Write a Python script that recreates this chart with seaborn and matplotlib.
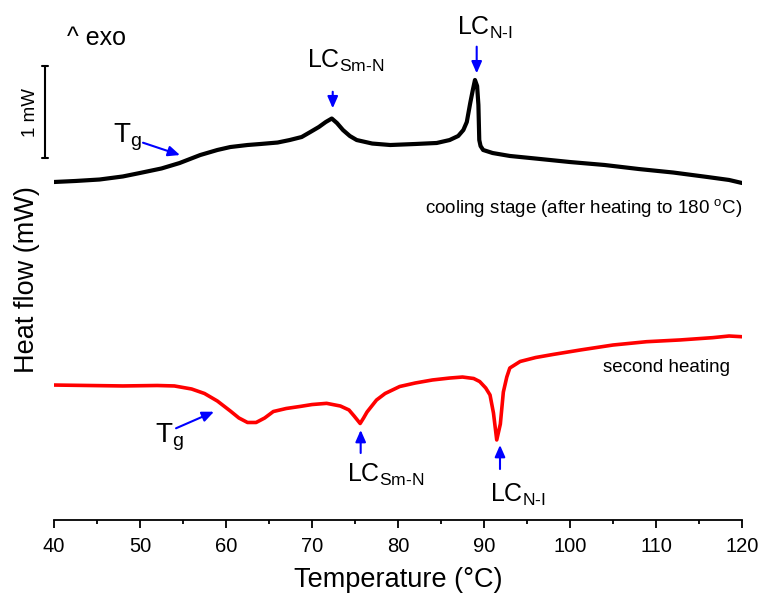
import numpy as np
import pandas as pd
import matplotlib
matplotlib.use("Agg")
import matplotlib.pyplot as plt
from matplotlib.ticker import MultipleLocator
import seaborn as sns

# DSC traces: temperature (°C) and heat flow (mW, stacked with offsets)
cool_T = [40.0, 42.5, 45.3, 48.0, 50.0, 52.5, 54.6, 57.0, 59.0, 60.5, 62.5, 64.0,
          66.0, 67.4, 68.8, 69.8, 70.8, 71.6, 72.3, 72.9, 73.6, 74.4, 75.2, 77.0,
          79.1, 82.0, 84.5, 86.0, 87.0, 87.6, 88.0, 88.4, 88.7, 88.95, 89.2, 89.35,
          89.45, 89.6, 89.9, 91.0, 93.0, 96.0, 100.0, 104.0, 108.0, 112.0, 116.0,
          118.5, 120.0]
cool_mW = [3.674, 3.685, 3.701, 3.734, 3.772, 3.821, 3.880, 3.967, 4.022, 4.054,
           4.076, 4.087, 4.103, 4.130, 4.163, 4.217, 4.272, 4.326, 4.364, 4.315,
           4.239, 4.174, 4.130, 4.092, 4.076, 4.087, 4.098, 4.130, 4.174, 4.239,
           4.326, 4.533, 4.674, 4.783, 4.717, 4.511, 4.130, 4.065, 4.022, 3.989,
           3.957, 3.929, 3.891, 3.859, 3.815, 3.777, 3.728, 3.696, 3.663]

heat_T = [40.0, 44.0, 48.0, 52.0, 54.0, 56.0, 57.5, 59.0, 60.5, 61.5, 62.5, 63.5,
          64.5, 65.5, 67.0, 68.6, 70.0, 71.7, 73.3, 74.3, 74.9, 75.6, 76.0, 76.4,
          77.5, 78.5, 80.2, 82.0, 84.0, 86.0, 87.5, 88.8, 89.5, 90.2, 90.7, 91.1,
          91.48, 91.9, 92.25, 92.65, 93.0, 94.2, 96.0, 98.0, 101.2, 105.0, 108.9,
          112.8, 116.6, 118.5, 120.0]
heat_mW = [1.467, 1.462, 1.457, 1.462, 1.457, 1.424, 1.375, 1.293, 1.185, 1.109,
           1.060, 1.060, 1.109, 1.179, 1.212, 1.234, 1.255, 1.268, 1.239, 1.196,
           1.130, 1.049, 1.109, 1.174, 1.304, 1.375, 1.451, 1.489, 1.522, 1.543,
           1.554, 1.538, 1.505, 1.435, 1.359, 1.163, 0.870, 1.043, 1.391, 1.554,
           1.652, 1.723, 1.766, 1.799, 1.848, 1.902, 1.938, 1.957, 1.982, 2.000,
           1.992]

x_ticks = [40, 50, 60, 70, 80, 90, 100, 110, 120]

sns.set_theme(style="ticks")
plt.rcParams["font.family"] = ["Liberation Sans", "DejaVu Sans"]
plt.rcParams["mathtext.fontset"] = "custom"
plt.rcParams["mathtext.rm"] = "Liberation Sans"
plt.rcParams["mathtext.it"] = "Liberation Sans:italic"
plt.rcParams["mathtext.bf"] = "Liberation Sans:bold"
plt.rcParams["text.color"] = "black"
plt.rcParams["axes.labelcolor"] = "black"
plt.rcParams["xtick.color"] = "black"

cool = pd.DataFrame({"T": cool_T, "mW": cool_mW})
heat = pd.DataFrame({"T": heat_T, "mW": heat_mW})

fig = plt.figure(figsize=(7.65, 6.02), dpi=100)
ax = fig.add_axes([54 / 765, 82 / 602, 688 / 765, 515 / 602])

sns.lineplot(data=cool, x="T", y="mW", ax=ax, color="black", lw=3.0, sort=False,
             solid_joinstyle="round", solid_capstyle="round")
sns.lineplot(data=heat, x="T", y="mW", ax=ax, color="#ff0000", lw=2.6, sort=False,
             solid_joinstyle="round", solid_capstyle="round")

ax.set_xlim(40, 120)
ax.set_ylim(0, 515 / 92)
ax.set_xticks(x_ticks)
ax.xaxis.set_minor_locator(MultipleLocator(5))
ax.tick_params(axis="x", which="major", direction="out", length=6, width=1.3,
               labelsize=14.5, pad=6, colors="black")
ax.tick_params(axis="x", which="minor", direction="out", length=3, width=1.3,
               colors="black")
ax.set_yticks([])
for s in ("left", "top", "right"):
    ax.spines[s].set_visible(False)
ax.spines["bottom"].set_linewidth(1.3)
ax.spines["bottom"].set_color("black")

ax.set_xlabel("Temperature (°C)", fontsize=19.5, labelpad=8, color="black")
ax.set_ylabel("Heat flow (mW)", fontsize=19.5, color="black")
ax.yaxis.set_label_coords(-0.02, 0.466)

# 1 mW scale bar
ax.plot([38.95, 38.95], [3.94, 4.94], color="black", lw=1.5, clip_on=False)
ax.plot([38.6, 39.3], [3.94, 3.94], color="black", lw=1.5, clip_on=False)
ax.plot([38.6, 39.3], [4.94, 4.94], color="black", lw=1.5, clip_on=False)
ax.text(37.25, 4.424, "1 mW", rotation=90, fontsize=13.5, ha="center", va="center",
        clip_on=False)

ax.text(41.5, 5.163, "^ exo", fontsize=18, ha="left", va="baseline")

arrow = dict(arrowstyle="-|>,head_length=0.5,head_width=0.22", color="#0000ff",
             lw=1.5, mutation_scale=14, shrinkA=0, shrinkB=0)

# cooling stage labels
ax.text(46.86, 4.098, r"T$_\mathregular{g}$", fontsize=20, ha="left", va="baseline")
ax.annotate("", xy=(54.65, 3.967), xytext=(50.35, 4.101), arrowprops=arrow)
ax.text(69.42, 4.913, r"LC$_\mathregular{Sm\text{-}N}$", fontsize=18, ha="left",
        va="baseline")
ax.annotate("", xy=(72.41, 4.475), xytext=(72.41, 4.655), arrowprops=arrow)
ax.text(86.86, 5.272, r"LC$_\mathregular{N\text{-}I}$", fontsize=18, ha="left",
        va="baseline")
ax.annotate("", xy=(89.15, 4.855), xytext=(89.15, 5.145), arrowprops=arrow)
ax.text(120.1, 3.337, r"cooling stage (after heating to 180 $\mathregular{^{o}}$C)",
        fontsize=13.5, ha="right", va="baseline")

# second heating labels
ax.text(118.6, 1.612, "second heating", fontsize=13.5, ha="right", va="baseline")
ax.text(51.74, 0.837, r"T$_\mathregular{g}$", fontsize=20, ha="left", va="baseline")
ax.annotate("", xy=(58.6, 1.177), xytext=(54.19, 0.997), arrowprops=arrow)
ax.text(74.07, 0.416, r"LC$_\mathregular{Sm\text{-}N}$", fontsize=18, ha="left",
        va="baseline")
ax.annotate("", xy=(75.66, 0.978), xytext=(75.66, 0.728), arrowprops=arrow)
ax.text(90.7, 0.199, r"LC$_\mathregular{N\text{-}I}$", fontsize=18, ha="left",
        va="baseline")
ax.annotate("", xy=(91.86, 0.815), xytext=(91.86, 0.554), arrowprops=arrow)

fig.savefig("out.png", dpi=100)
